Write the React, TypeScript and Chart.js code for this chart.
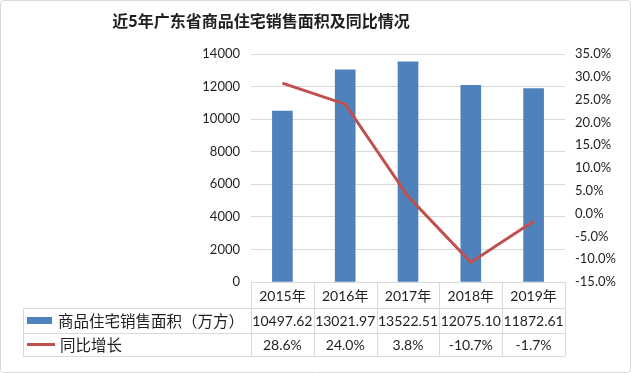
import React, { useEffect, useRef } from "react";
import { Chart, registerables } from "chart.js";

Chart.register(...registerables);

const title = "近5年广东省商品住宅销售面积及同比情况";
const categories = ["2015年", "2016年", "2017年", "2018年", "2019年"];
const areaLabel = "商品住宅销售面积（万方）";
const areaValues = [10497.62, 13021.97, 13522.51, 12075.1, 11872.61];
const areaText = ["10497.62", "13021.97", "13522.51", "12075.10", "11872.61"];
const growthLabel = "同比增长";
const growthValues = [28.6, 24.0, 3.8, -10.7, -1.7];

const BLUE = "#4F81BD";
const RED = "#C0504D";
const GRID = "#d9d9d9";
const TEXT = "#1f1f1f";
const FONT = "Lato, 'Noto Sans CJK SC', sans-serif";

const tablePlugin = {
  id: "tablePlugin",
  afterDraw(chart: any) {
    const ctx = chart.ctx as CanvasRenderingContext2D;
    const x = chart.scales.x;
    const area = chart.chartArea;
    const n = categories.length;
    const cw = (area.right - area.left) / n;
    const top = area.bottom;
    const r1 = top + 26;
    const r2 = r1 + 25;
    const r3 = r2 + 23;
    const leftX = 23;
    ctx.save();
    // outer border
    ctx.strokeStyle = GRID;
    ctx.lineWidth = 1;
    ctx.beginPath();
    ctx.roundRect(0.5, 0.5, chart.width - 1, chart.height - 1, 3);
    ctx.stroke();
    // title
    ctx.fillStyle = TEXT;
    ctx.font = "bold 16px 'Noto Sans CJK SC', sans-serif";
    ctx.textAlign = "center";
    ctx.textBaseline = "middle";
    ctx.fillText(title, 261, 21);
    // table lines
    ctx.strokeStyle = GRID;
    ctx.beginPath();
    for (let i = 0; i <= n; i++) {
      const px = Math.round(area.left + i * cw) + 0.5;
      ctx.moveTo(px, top);
      ctx.lineTo(px, r3);
    }
    ctx.moveTo(leftX + 0.5, r1);
    ctx.lineTo(leftX + 0.5, r3);
    ctx.moveTo(area.left, Math.round(top) + 0.5);
    ctx.lineTo(area.right, Math.round(top) + 0.5);
    for (const yy of [r1, r2, r3]) {
      ctx.moveTo(leftX, Math.round(yy) + 0.5);
      ctx.lineTo(area.right, Math.round(yy) + 0.5);
    }
    ctx.stroke();
    // texts
    ctx.fillStyle = TEXT;
    ctx.font = `14px ${FONT}`;
    ctx.textAlign = "center";
    for (let i = 0; i < n; i++) {
      const cx = x.getPixelForValue(i);
      ctx.fillText(categories[i], cx, (top + r1) / 2 + 1);
      ctx.fillText(areaText[i], cx, (r1 + r2) / 2 + 1);
      ctx.fillText(growthValues[i].toFixed(1) + "%", cx, (r2 + r3) / 2 + 1);
    }
    // legend keys
    ctx.fillStyle = BLUE;
    ctx.fillRect(27, (r1 + r2) / 2 - 3.5, 25, 7);
    ctx.strokeStyle = RED;
    ctx.lineWidth = 3;
    ctx.beginPath();
    ctx.moveTo(27, (r2 + r3) / 2);
    ctx.lineTo(55, (r2 + r3) / 2);
    ctx.stroke();
    ctx.fillStyle = TEXT;
    ctx.font = `15.5px ${FONT}`;
    ctx.textAlign = "left";
    ctx.fillText(areaLabel, 58, (r1 + r2) / 2 + 1);
    ctx.fillText(growthLabel, 60, (r2 + r3) / 2 + 1);
    ctx.restore();
  },
};

export default function App() {
  const ref = useRef<HTMLCanvasElement>(null);
  useEffect(() => {
    document.body.style.margin = "0";
    const canvas = ref.current!;
    const chart = new Chart(canvas, {
      type: "bar",
      data: {
        labels: categories,
        datasets: [
          {
            type: "line",
            label: growthLabel,
            data: growthValues,
            yAxisID: "y1",
            borderColor: RED,
            backgroundColor: RED,
            borderWidth: 3,
            pointRadius: 0,
            tension: 0,
            order: 0,
          } as any,
          {
            type: "bar",
            label: areaLabel,
            data: areaValues,
            yAxisID: "y",
            backgroundColor: BLUE,
            barThickness: 20,
            order: 1,
          },
        ],
      },
      options: {
        responsive: false,
        animation: false,
        devicePixelRatio: 1,
        layout: { padding: { left: 0, right: 0, top: 54, bottom: 91 } },
        plugins: {
          legend: { display: false },
          tooltip: { enabled: false },
          title: { display: false },
        },
        scales: {
          x: {
            ticks: { display: false },
            grid: { display: false },
            border: { display: false },
            afterFit: (s: any) => {
              s.height = 0;
            },
          },
          y: {
            position: "left",
            min: 0,
            max: 14000,
            ticks: {
              stepSize: 2000,
              color: TEXT,
              font: { family: FONT, size: 13 },
              padding: 11,
              callback: (v: any) => String(v),
            },
            grid: { color: GRID, drawTicks: false },
            border: { display: false },
            afterFit: (s: any) => {
              s.width = 251;
            },
          },
          y1: {
            position: "right",
            min: -15,
            max: 35,
            ticks: {
              stepSize: 5,
              color: TEXT,
              font: { family: FONT, size: 13 },
              padding: 10,
              callback: (v: any) => Number(v).toFixed(1) + "%",
            },
            grid: { display: false, drawTicks: false },
            border: { display: false },
            afterFit: (s: any) => {
              s.width = 66;
            },
          },
        },
      },
      plugins: [tablePlugin],
    });
    return () => chart.destroy();
  }, []);
  return (
    <div style={{ width: 631, height: 373, background: "#fff" }}>
      <canvas ref={ref} width={631} height={373} style={{ width: 631, height: 373, display: "block" }} />
    </div>
  );
}
